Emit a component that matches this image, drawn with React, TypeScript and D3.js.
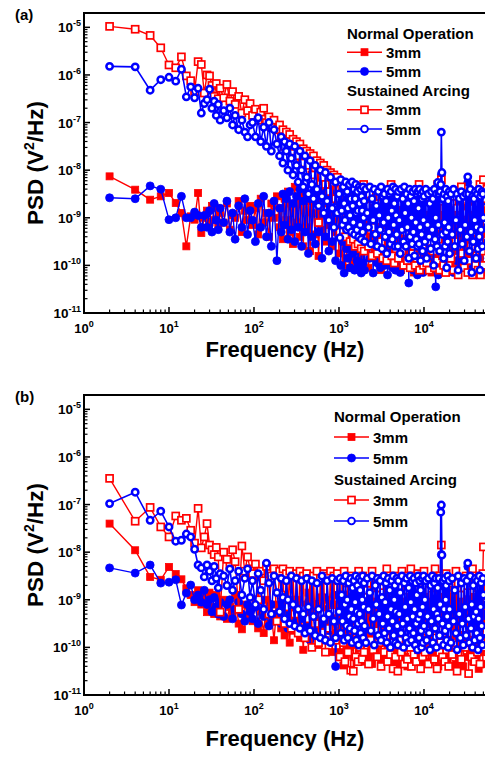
import React from "react";
import * as d3 from "d3";

// frequency bins (Hz) shared by every trace
const freqs = [
  // 2 - 186 Hz
  2, 4, 6, 8, 10, 12, 14, 16, 18, 20,
  22, 24, 26, 28, 30, 32, 34, 36, 38, 40,
  44, 48, 52, 56, 60, 66, 72, 78, 84, 90,
  96, 104, 112, 120, 130, 140, 150, 160, 172, 186,
  // 200 - 955 Hz
  200, 209, 219, 229, 240, 251, 263, 275, 288, 302,
  316, 331, 347, 363, 380, 398, 417, 437, 457, 479,
  501, 525, 550, 575, 603, 631, 661, 692, 724, 759,
  794, 832, 871, 912, 955,
  // 1 - 2 kHz
  1000, 1025, 1050, 1075, 1100, 1125, 1150, 1175, 1200, 1225,
  1250, 1275, 1300, 1325, 1350, 1375, 1400, 1425, 1450, 1475,
  1500, 1525, 1550, 1575, 1600, 1625, 1650, 1675, 1700, 1725,
  1750, 1775, 1800, 1825, 1850, 1875, 1900, 1925, 1950, 1975,
  // 2 - 5 kHz
  2000, 2075, 2150, 2225, 2300, 2375, 2450, 2525, 2600, 2675,
  2750, 2825, 2900, 2975, 3050, 3125, 3200, 3275, 3350, 3425,
  3500, 3575, 3650, 3725, 3800, 3875, 3950, 4025, 4100, 4175,
  4250, 4325, 4400, 4475, 4550, 4625, 4700, 4775, 4850, 4925,
  // 5 - 10 kHz
  5000, 5125, 5250, 5375, 5500, 5625, 5750, 5875, 6000, 6125,
  6250, 6375, 6500, 6625, 6750, 6875, 7000, 7125, 7250, 7375,
  7500, 7625, 7750, 7875, 8000, 8125, 8250, 8375, 8500, 8625,
  8750, 8875, 9000, 9125, 9250, 9375, 9500, 9625, 9750, 9875,
  // 10 - 20 kHz
  10000, 10250, 10500, 10750, 11000, 11250, 11500, 11750, 12000, 12250,
  12500, 12750, 13000, 13250, 13500, 13750, 14000, 14250, 14500, 14750,
  15000, 15250, 15500, 15750, 16000, 16250, 16500, 16750, 17000, 17250,
  17500, 17750, 18000, 18250, 18500, 18750, 19000, 19250, 19500, 19750,
  // 20 - 50 kHz
  20000, 20750, 21500, 22250, 23000, 23750, 24500, 25250, 26000, 26750,
  27500, 28250, 29000, 29750, 30500, 31250, 32000, 32750, 33500, 34250,
  35000, 35750, 36500, 37250, 38000, 38750, 39500, 40250, 41000, 41750,
  42500, 43250, 44000, 44750, 45500, 46250, 47000, 47750, 48500, 49250,
  50000,
];

// values below are log10 of PSD (V^2/Hz)

// (a) normal operation, 3mm
const aNormal3 = [
  -8.13, -8.41, -8.62, -8.55, -8.48, -8.69, -8.9, -9.6, -8.97, -9.04,
  -8.48, -9.32, -9.0, -8.85, -9.1, -8.75, -9.05, -8.8, -9.2, -8.9,
  -9.1, -8.7, -9.25, -8.95, -9.0, -8.65, -9.3, -8.85, -9.05, -8.75,
  -9.15, -8.8, -9.35, -8.6, -9.1, -8.9, -9.4, -8.7, -9.0, -8.55,
  -9.2, -8.8, -9.45, -8.6, -9.05, -8.45, -9.3, -8.7, -9.55, -8.35,
  -9.1, -8.6, -9.4, -8.5, -9.6, -8.4, -9.2, -8.65, -9.7, -8.5,
  -8.9, -9.35, -8.55, -9.8, -8.6, -9.25, -8.45, -9.5, -8.7, -9.15,
  -8.4, -9.6, -8.55, -9.3, -8.65,
  -9.75, -8.6, -9.3, -8.9, -10.0, -8.55, -9.5, -9.1, -8.7, -9.85,
  -8.65, -9.4, -9.0, -10.05, -8.75, -9.6, -8.55, -9.2, -9.9, -8.8,
  -9.45, -8.6, -10.0, -9.15, -8.7, -9.7, -8.95, -8.55, -9.55, -10.1,
  -8.75, -9.3, -8.6, -9.8, -9.05, -8.65, -9.95, -8.85, -9.4, -8.55,
  -9.65, -9.0, -8.7, -10.05, -8.6, -9.35, -9.8, -8.8, -9.15, -8.55,
  -9.9, -8.65, -9.5, -9.05, -8.75, -10.1, -8.6, -9.25, -9.7, -8.85,
  -8.55, -9.6, -9.1, -8.7, -9.95, -8.6, -9.4, -8.9, -10.0, -8.65,
  -9.3, -8.8, -9.75, -8.55, -9.2, -10.05, -8.7, -9.5, -8.6, -9.85,
  -8.9, -9.45, -8.6, -10.1, -8.75, -9.3, -9.7, -8.55, -9.05, -9.9,
  -8.65, -9.55, -8.8, -9.2, -10.0, -8.6, -9.4, -8.7, -9.8, -9.0,
  -8.55, -10.15, -8.7, -9.35, -9.05, -8.6, -9.9, -8.8, -9.5, -8.65,
  -9.75, -8.9, -8.55, -9.6, -10.1, -8.7, -9.25, -8.6, -9.95, -8.8,
  -9.4, -8.65, -10.0, -8.75, -9.15, -9.7, -8.55, -9.5, -8.85, -10.15,
  -8.6, -9.3, -9.85, -8.7, -9.05, -8.55, -9.65, -10.05, -8.8, -9.4,
  -8.6, -9.9, -8.7, -9.2, -8.25, -8.65, -9.55, -10.1, -8.75, -9.0,
  -8.55, -9.75, -9.3, -8.65, -10.0, -8.8, -9.45, -8.6, -9.85, -9.1,
  -8.7, -10.1, -8.6, -9.35, -9.7, -8.55, -9.0, -9.95, -8.75, -9.5,
  -8.6, -9.8, -9.15, -8.7, -10.05, -8.55, -9.4, -8.8, -9.65, -8.6,
  -10.1, -8.75, -9.25, -8.6, -9.9, -9.05, -8.65, -9.6, -8.55, -10.0,
  -8.8, -9.45, -8.6, -9.75, -9.1, -8.7, -10.15, -8.55, -9.35, -8.65,
  -8.26,
];

// (a) normal operation, 5mm
const aNormal5 = [
  -8.58, -8.6, -8.33, -8.4, -9.04, -9.0, -8.55, -9.0, -9.0, -8.88,
  -8.95, -9.2, -8.95, -9.2, -8.85, -9.3, -8.7, -9.05, -9.25, -8.8,
  -9.1, -8.65, -9.3, -8.9, -9.45, -8.75, -9.2, -8.6, -9.35, -8.85,
  -9.05, -9.5, -8.7, -9.2, -8.55, -9.4, -8.9, -9.6, -8.65, -9.9,
  -8.8, -9.3, -8.5, -9.15, -8.6, -9.45, -8.45, -9.25, -8.7, -9.5,
  -8.55, -9.2, -8.4, -9.6, -8.65, -9.3, -8.5, -9.75, -8.6, -9.4,
  -8.45, -9.55, -8.7, -9.3, -8.5, -9.85, -8.6, -9.4, -8.45, -9.7,
  -8.6, -9.5, -8.5, -9.9, -8.65,
  -9.35, -8.55, -10.0, -8.8, -9.5, -8.6, -10.16, -9.1, -8.7, -9.65,
  -8.5, -9.85, -9.2, -8.65, -10.05, -8.9, -9.4, -8.55, -9.75, -9.0,
  -8.6, -10.1, -8.75, -9.45, -8.55, -9.9, -9.15, -8.7, -10.0, -8.6,
  -9.55, -8.85, -9.3, -10.16, -8.65, -9.6, -8.5, -9.95, -9.05, -8.7,
  -10.1, -8.6, -9.45, -8.8, -9.85, -8.55, -9.25, -10.16, -8.7, -9.55,
  -8.6, -9.95, -9.1, -8.65, -10.05, -8.75, -9.6, -8.55, -9.35, -10.0,
  -8.8, -9.5, -8.6, -10.2, -9.0, -8.7, -9.8, -8.55, -9.4, -8.9,
  -10.05, -8.65, -9.65, -8.6, -9.2, -10.1, -8.75, -9.5, -8.55, -9.9,
  -8.7, -9.3, -10.15, -8.6, -9.6, -8.8, -10.0, -8.55, -9.45, -8.65,
  -9.9, -9.05, -8.6, -10.37, -8.75, -9.5, -8.55, -9.8, -9.15, -8.7,
  -10.1, -8.6, -9.4, -8.85, -9.95, -8.55, -9.65, -10.2, -8.7, -9.3,
  -8.6, -9.85, -9.05, -8.65, -10.05, -8.8, -9.55, -8.55, -10.15, -8.75,
  -9.45, -8.6, -10.0, -9.2, -8.7, -9.75, -8.55, -10.1, -8.9, -9.35,
  -8.6, -10.05, -9.6, -8.7, -9.9, -10.45, -8.55, -9.4, -8.8, -10.2,
  -8.65, -9.7, -9.1, -8.6, -8.1, -8.5, -9.8, -8.7, -10.05, -9.3,
  -8.55, -9.6, -10.1, -8.75, -9.45, -8.6, -9.95, -8.85, -9.2, -10.0,
  -8.6, -9.75, -8.7, -10.15, -9.35, -8.55, -9.9, -9.05, -8.65, -10.05,
  -8.8, -9.5, -8.6, -10.0, -9.2, -8.7, -9.85, -8.26, -8.55, -9.6,
  -10.1, -8.65, -9.4, -8.75, -9.95, -8.6, -9.15, -10.05, -8.55, -9.7,
  -8.8, -10.0, -9.3, -8.6, -9.85, -8.7, -9.5, -10.1, -8.65, -9.2,
  -8.9,
];

// (a) sustained arcing, 3mm
const aArc3 = [
  -4.98, -5.04, -5.17, -5.43, -5.79, -5.85, -5.62, -6.02, -6.12, -6.35,
  -5.72, -5.78, -6.38, -6.0, -6.02, -6.22, -6.45, -6.18, -6.5, -6.28,
  -6.48, -6.2, -6.55, -6.35, -6.62, -6.45, -6.8, -6.52, -6.75, -6.6,
  -6.85, -6.72, -6.95, -6.78, -6.7, -7.0, -6.88, -7.1, -6.95, -7.15,
  -7.05, -7.3, -7.15, -7.5, -7.2, -7.4, -7.25, -7.6, -7.35, -7.5,
  -7.4, -7.7, -7.45, -7.85, -7.55, -7.65, -7.6, -7.9, -7.65, -8.1,
  -7.7, -7.95, -7.8, -9.1, -7.85, -8.15, -7.9, -8.3, -8.0, -8.45,
  -8.05, -8.2, -8.1, -8.6, -8.15,
  -8.6, -9.3, -8.25, -8.9, -9.1, -8.45, -8.75, -9.4, -8.5, -9.0,
  -8.35, -9.2, -8.7, -8.5, -9.5, -8.85, -8.4, -9.05, -8.65, -9.45,
  -8.55, -8.95, -9.6, -8.45, -8.8, -9.15, -8.6, -9.55, -8.5, -9.0,
  -9.3, -8.55, -8.85, -9.65, -8.45, -9.1, -8.7, -9.4, -8.3, -9.7,
  -8.6, -9.0, -8.75, -9.6, -8.5, -9.25, -9.8, -8.65, -9.2, -8.9,
  -8.45, -9.75, -8.7, -9.05, -8.55, -9.5, -8.8, -9.85, -8.6, -9.3,
  -9.35, -8.65, -9.9, -8.5, -8.95, -9.55, -8.7, -9.1, -8.3, -9.8,
  -8.75, -9.4, -8.55, -9.95, -8.8, -9.05, -9.65, -8.6, -9.2, -8.5,
  -9.85, -8.7, -9.0, -8.55, -9.7, -8.85, -10.0, -8.6, -9.3, -8.45,
  -8.9, -9.9, -8.6, -9.45, -8.5, -10.05, -8.75, -9.1, -8.65, -9.75,
  -8.55, -9.6, -8.8, -10.0, -8.6, -9.15, -9.85, -8.5, -9.4, -8.7,
  -8.3, -10.1, -8.65, -9.2, -8.85, -9.9, -8.55, -9.6, -8.75, -10.0,
  -8.6, -9.3, -8.5, -9.95, -8.8, -9.05, -10.1, -8.65, -9.5, -8.45,
  -8.7, -9.7, -8.55, -10.05, -8.9, -9.2, -8.6, -9.9, -8.3, -9.45,
  -8.65, -10.1, -8.5, -9.6, -8.2, -8.7, -9.8, -8.55, -10.0, -8.8,
  -9.3, -8.6, -10.15, -8.75, -9.7, -8.5, -9.1, -8.85, -10.0, -8.6,
  -8.45, -9.85, -8.7, -10.1, -8.55, -9.5, -8.8, -10.2, -8.6, -9.0,
  -8.35, -9.75, -8.65, -10.05, -8.9, -9.4, -8.55, -10.15, -8.75, -9.9,
  -8.6, -9.6, -8.5, -10.2, -8.8, -9.3, -8.65, -10.0, -8.45, -9.8,
  -8.7, -10.1, -8.55, -9.5, -8.3, -10.2, -8.85, -9.7, -8.6, -10.0,
  -8.2,
];

// (a) sustained arcing, 5mm
const aArc5 = [
  -5.82, -5.83, -6.32, -6.1, -6.05, -6.13, -5.88, -6.46, -6.25, -6.48,
  -6.28, -6.8, -6.6, -6.52, -6.3, -6.7, -6.55, -6.85, -6.62, -6.95,
  -6.75, -6.9, -6.7, -7.05, -6.85, -7.15, -6.95, -7.2, -7.3, -7.05,
  -7.0, -7.3, -6.9, -7.4, -7.1, -7.5, -7.0, -7.6, -7.15, -7.45,
  -7.7, -7.3, -7.85, -7.4, -7.6, -8.0, -7.45, -7.75, -8.1, -7.5,
  -7.9, -8.25, -7.6, -8.0, -8.35, -7.7, -8.15, -8.5, -7.8, -8.3,
  -8.6, -7.9, -8.4, -8.75, -8.0, -8.55, -8.9, -8.05, -8.65, -9.05,
  -8.15, -8.8, -9.2, -8.25, -8.9,
  -8.5, -9.42, -8.2, -8.85, -9.15, -8.35, -8.7, -9.05, -8.25, -9.25,
  -8.45, -8.8, -9.2, -8.3, -8.95, -8.6, -9.3, -8.25, -8.75, -9.1,
  -8.4, -9.35, -8.6, -8.3, -8.9, -9.25, -8.45, -8.85, -9.4, -8.35,
  -8.7, -9.15, -8.4, -9.45, -8.55, -8.85, -9.3, -8.35, -9.0, -8.65,
  -9.5, -8.4, -8.9, -9.2, -8.35, -9.55, -8.6, -9.05, -8.4, -9.35,
  -8.75, -9.6, -8.45, -8.95, -9.25, -8.35, -9.65, -8.55, -9.1, -8.5,
  -9.4, -8.65, -9.75, -8.4, -9.0, -9.3, -8.5, -9.55, -8.45, -8.85,
  -9.45, -8.35, -9.15, -8.7, -9.6, -8.4, -8.95, -9.35, -8.55, -9.6,
  -8.45, -9.05, -9.75, -8.4, -9.25, -8.6, -9.5, -8.35, -8.9, -9.6,
  -8.5, -9.2, -8.7, -9.85, -8.4, -9.4, -8.55, -9.0, -9.55, -8.45,
  -9.3, -8.65, -9.8, -8.4, -9.1, -9.45, -8.5, -9.6, -8.45, -8.8,
  -9.55, -8.4, -9.2, -9.9, -8.5, -9.35, -8.6, -9.7, -8.45, -9.05,
  -8.55, -9.5, -8.4, -9.85, -9.15, -8.5, -9.4, -8.7, -9.65, -8.45,
  -9.25, -8.6, -10.0, -8.4, -9.45, -9.0, -8.5, -9.6, -8.26, -9.15,
  -8.5, -9.7, -8.45, -8.3, -7.2, -8.05, -9.35, -8.6, -9.85, -8.5,
  -9.1, -9.6, -8.4, -9.3, -10.05, -8.55, -9.5, -8.65, -9.2, -8.45,
  -9.75, -8.5, -9.35, -8.4, -9.6, -9.05, -8.5, -10.1, -8.6, -9.25,
  -8.45, -9.55, -8.55, -9.9, -9.15, -8.5, -9.4, -8.14, -8.5, -9.7,
  -8.4, -9.3, -10.15, -8.55, -9.5, -8.6, -9.05, -8.45, -9.85, -9.2,
  -8.5, -9.65, -8.4, -9.4, -10.1, -8.55, -9.25, -8.45, -9.6, -8.5,
  -9.0,
];

// (b) normal operation, 3mm
const bNormal3 = [
  -7.4, -7.96, -8.52, -8.58, -8.31, -8.46, -8.57, -8.76, -8.9, -9.05,
  -8.8, -9.1, -8.95, -9.26, -8.85, -9.15, -9.3, -8.9, -9.2, -9.35,
  -9.0, -9.4, -9.15, -9.3, -8.9, -9.5, -9.62, -9.1, -9.35, -9.2,
  -9.45, -9.05, -9.6, -9.25, -9.7, -9.0, -9.5, -9.3, -9.85, -9.1,
  -9.4, -9.6, -8.9, -9.75, -9.2, -9.5, -9.9, -9.05, -9.65, -9.3,
  -9.55, -9.0, -9.8, -9.35, -10.05, -9.2, -9.6, -8.85, -9.75, -9.45,
  -9.1, -9.7, -9.3, -9.95, -8.95, -9.55, -9.25, -9.85, -9.0, -9.6,
  -9.4, -10.1, -9.15, -9.7, -9.35,
  -9.1, -10.1, -9.3, -9.65, -8.9, -10.38, -9.4, -9.15, -10.15, -9.5,
  -8.95, -9.7, -9.35, -10.0, -9.2, -9.55, -8.8, -9.9, -9.4, -10.2,
  -9.15, -9.65, -8.85, -9.95, -9.45, -10.25, -9.1, -9.6, -8.9, -10.0,
  -9.35, -9.7, -9.05, -10.3, -9.5, -8.85, -9.8, -9.25, -10.1, -9.45,
  -9.0, -9.75, -9.3, -10.2, -8.9, -9.55, -10.35, -9.2, -9.7, -9.05,
  -10.05, -9.4, -8.95, -9.8, -9.25, -10.25, -9.5, -9.1, -9.9, -8.85,
  -9.6, -10.15, -9.3, -9.7, -8.95, -10.0, -9.45, -9.2, -9.85, -9.35,
  -10.3, -9.0, -9.55, -9.9, -9.15, -10.1, -8.85, -9.65, -9.4, -10.35,
  -9.2, -9.75, -9.0, -10.05, -9.5, -8.9, -9.85, -9.3, -10.2, -9.6,
  -9.05, -10.4, -9.35, -9.7, -8.95, -10.0, -9.45, -9.15, -9.9, -10.3,
  -9.25, -9.6, -8.9, -10.1, -9.4, -9.8, -9.05, -10.25, -9.55, -9.2,
  -10.0, -8.95, -9.7, -9.35, -10.35, -9.1, -9.6, -9.9, -9.0, -10.15,
  -9.45, -9.2, -9.85, -8.9, -10.05, -9.55, -9.3, -10.3, -9.05, -9.7,
  -9.4, -10.1, -8.95, -9.65, -9.25, -10.2, -9.5, -9.0, -9.9, -10.4,
  -9.15, -9.75, -9.3, -10.05, -8.6, -9.3, -9.6, -10.25, -9.0, -9.85,
  -9.45, -8.9, -10.15, -9.35, -9.7, -9.05, -10.3, -9.55, -9.2, -9.95,
  -8.95, -10.1, -9.4, -9.65, -9.1, -10.35, -9.5, -8.9, -9.8, -10.0,
  -9.3, -9.6, -10.4, -9.15, -9.85, -9.0, -10.2, -8.5, -9.45, -9.7,
  -10.05, -9.25, -9.55, -8.95, -10.3, -9.4, -9.75, -9.1, -10.15, -9.5,
  -9.0, -9.9, -10.45, -9.35, -9.6, -8.9, -10.1, -9.45, -9.2, -10.35,
  -8.75,
];

// (b) normal operation, 5mm
const bNormal5 = [
  -8.33, -8.44, -8.27, -8.65, -8.63, -8.58, -9.11, -8.86, -8.69, -9.0,
  -8.9, -9.05, -8.8, -9.1, -9.0, -9.25, -8.95, -9.15, -9.3, -9.05,
  -9.35, -9.1, -9.0, -9.4, -9.2, -9.05, -9.3, -9.45, -9.1, -9.25,
  -9.4, -9.15, -9.5, -9.0, -9.35, -9.25, -9.55, -9.1, -9.45, -9.3,
  -9.2, -9.5, -9.05, -9.4, -9.3, -9.6, -9.15, -9.45, -9.0, -9.35,
  -9.5, -9.2, -9.65, -9.1, -9.4, -9.3, -9.55, -9.05, -9.85, -9.25,
  -9.4, -9.1, -9.6, -9.3, -9.15, -9.5, -8.95, -9.45, -9.2, -9.65,
  -9.1, -9.4, -8.9, -10.4, -9.25,
  -9.7, -9.0, -9.35, -9.6, -8.95, -9.45, -9.2, -9.75, -9.05, -9.5,
  -9.3, -8.9, -9.65, -9.15, -9.8, -9.0, -9.4, -9.7, -9.1, -9.55,
  -8.95, -9.3, -9.85, -9.2, -9.5, -9.0, -9.7, -9.35, -8.9, -9.6,
  -9.25, -9.8, -9.05, -9.45, -9.15, -9.75, -8.95, -9.4, -9.6, -9.1,
  -9.5, -9.9, -9.0, -9.35, -9.65, -9.2, -9.45, -8.9, -9.8, -9.3,
  -9.05, -9.55, -9.75, -9.15, -9.4, -8.95, -9.6, -9.85, -9.25, -9.5,
  -9.0, -9.7, -9.35, -9.1, -9.9, -9.45, -9.2, -8.9, -9.6, -9.3,
  -9.75, -9.05, -9.5, -9.2, -9.85, -9.0, -9.4, -9.65, -9.1, -9.55,
  -8.95, -9.8, -9.3, -9.5, -9.05, -9.7, -9.25, -8.9, -9.6, -9.4,
  -9.9, -9.15, -9.45, -9.0, -9.75, -9.35, -9.55, -9.1, -9.85, -9.2,
  -9.5, -8.95, -9.65, -9.3, -9.8, -9.05, -9.4, -9.7, -9.0, -9.55,
  -9.25, -9.9, -9.1, -9.45, -8.95, -9.75, -9.35, -9.6, -9.15, -9.85,
  -9.0, -9.5, -9.7, -9.2, -9.4, -8.9, -9.8, -9.3, -9.55, -9.05,
  -9.65, -9.25, -9.9, -9.1, -9.45, -9.0, -9.7, -9.35, -9.6, -9.15,
  -9.5, -9.0, -9.8, -9.3, -8.05, -9.3, -9.6, -8.95, -9.45, -9.75,
  -9.05, -8.6, -9.5, -9.2, -9.65, -9.0, -9.85, -9.35, -9.1, -9.55,
  -9.4, -9.75, -9.0, -9.6, -9.25, -9.9, -9.1, -9.45, -8.95, -9.7,
  -9.3, -9.55, -9.05, -9.8, -9.2, -9.4, -9.65, -8.3, -9.0, -9.5,
  -9.75, -9.15, -9.45, -8.95, -9.85, -9.3, -9.6, -9.0, -9.5, -9.2,
  -9.7, -9.05, -9.4, -9.9, -9.15, -9.55, -8.95, -9.35, -9.8, -9.1,
  -9.3,
];

// (b) sustained arcing, 3mm
const bArc3 = [
  -6.45, -7.35, -7.06, -7.47, -7.68, -7.24, -7.33, -7.29, -7.54, -7.81,
  -7.08, -7.91, -7.68, -7.4, -7.85, -7.95, -8.05, -7.9, -8.1, -9.26,
  -8.0, -8.15, -8.3, -7.95, -8.2, -9.2, -7.87, -8.4, -8.1, -8.35,
  -8.45, -8.25, -9.0, -8.4, -8.6, -8.3, -9.3, -8.5, -8.35, -9.45,
  -8.4, -8.9, -8.35, -9.5, -8.45, -9.15, -8.4, -9.6, -8.5, -9.3,
  -8.45, -9.7, -8.4, -9.2, -8.5, -9.8, -8.45, -9.4, -8.55, -10.0,
  -8.5, -9.5, -8.4, -9.9, -8.55, -9.3, -8.45, -10.1, -8.5, -9.6,
  -8.4, -9.25, -8.5, -9.85, -8.45,
  -8.6, -10.2, -8.9, -9.7, -8.55, -9.9, -8.4, -10.3, -8.75, -9.5,
  -8.65, -10.1, -9.0, -9.8, -8.5, -10.48, -8.8, -9.6, -8.6, -10.5,
  -8.7, -9.9, -8.55, -10.2, -8.95, -9.7, -8.6, -10.3, -8.4, -9.8,
  -8.85, -10.0, -8.6, -9.55, -8.75, -10.25, -8.5, -9.75, -8.9, -10.1,
  -8.55, -9.6, -8.8, -10.35, -8.65, -9.85, -8.4, -10.05, -8.7, -9.65,
  -8.9, -10.2, -8.55, -9.9, -8.75, -10.4, -8.6, -9.7, -8.85, -10.1,
  -8.6, -9.8, -8.35, -10.3, -8.8, -9.6, -8.55, -10.15, -8.7, -9.9,
  -8.95, -10.45, -8.6, -9.75, -8.5, -10.2, -8.8, -9.55, -8.65, -10.5,
  -8.55, -9.85, -8.75, -10.1, -8.4, -9.65, -8.9, -10.35, -8.6, -9.95,
  -8.8, -10.25, -8.5, -9.7, -8.7, -10.0, -8.35, -10.4, -8.85, -9.6,
  -8.6, -10.15, -8.9, -9.8, -8.55, -10.3, -8.7, -9.9, -8.45, -10.05,
  -8.75, -9.55, -8.6, -10.45, -8.85, -9.75, -8.5, -10.2, -8.65, -9.85,
  -8.4, -10.1, -8.7, -9.65, -8.55, -10.35, -8.8, -9.9, -8.6, -10.0,
  -8.9, -9.7, -8.55, -10.25, -8.35, -9.8, -8.75, -10.45, -8.6, -9.6,
  -8.7, -10.1, -8.5, -9.9, -7.85, -8.6, -10.2, -8.8, -9.75, -8.55,
  -10.3, -8.7, -9.65, -8.45, -10.05, -8.85, -9.85, -8.6, -10.4, -8.75,
  -9.7, -8.55, -10.15, -8.8, -9.9, -8.4, -10.5, -8.65, -9.8, -8.9,
  -10.25, -8.6, -9.6, -8.75, -10.0, -8.5, -9.75, -8.85, -10.55, -8.6,
  -9.9, -8.7, -10.2, -8.35, -9.7, -8.8, -10.3, -8.55, -9.85, -8.65,
  -10.1, -8.75, -9.65, -8.5, -10.35, -8.9, -9.9, -8.6, -10.0, -8.45,
  -7.89,
];

// (b) sustained arcing, 5mm
const bArc5 = [
  -6.98, -6.74, -7.33, -7.14, -7.47, -7.77, -7.75, -7.62, -7.68, -7.94,
  -8.27, -8.33, -8.52, -8.27, -8.4, -8.6, -8.3, -8.55, -8.75, -8.45,
  -8.5, -8.7, -8.35, -8.8, -8.6, -8.4, -8.9, -8.55, -8.35, -8.95,
  -8.6, -9.1, -8.45, -8.8, -9.2, -8.23, -8.65, -9.3, -8.5, -8.85,
  -9.25, -8.55, -8.95, -9.4, -8.6, -9.0, -9.5, -8.5, -9.1, -9.55,
  -8.55, -9.2, -9.6, -8.6, -9.3, -9.7, -8.55, -9.15, -9.65, -8.6,
  -9.35, -9.75, -8.65, -9.2, -9.8, -8.5, -9.4, -9.85, -8.6, -9.3,
  -9.9, -8.55, -9.45, -9.8, -8.6,
  -9.25, -8.55, -9.7, -8.9, -9.45, -8.6, -9.85, -9.1, -8.5, -9.55,
  -9.0, -9.8, -8.65, -9.35, -9.6, -8.55, -9.2, -9.9, -8.75, -9.4,
  -8.6, -9.65, -9.05, -8.5, -9.85, -9.25, -8.7, -9.5, -9.95, -8.55,
  -9.3, -8.8, -9.7, -8.6, -9.45, -9.0, -8.5, -9.8, -9.15, -8.65,
  -9.55, -9.9, -8.55, -9.2, -8.85, -9.65, -8.5, -9.4, -9.95, -8.7,
  -9.1, -8.55, -9.75, -9.3, -8.6, -9.85, -8.95, -9.5, -8.5, -9.7,
  -9.05, -8.65, -9.9, -9.35, -8.55, -9.6, -8.8, -10.0, -9.2, -8.6,
  -9.45, -8.5, -9.75, -9.0, -8.7, -9.9, -9.25, -8.55, -9.55, -9.95,
  -8.6, -9.3, -8.85, -9.7, -8.5, -9.5, -10.0, -8.65, -9.15, -9.8,
  -8.55, -9.4, -9.9, -8.75, -9.6, -8.5, -9.05, -9.85, -8.6, -9.35,
  -9.7, -8.55, -9.2, -9.95, -8.65, -9.5, -8.9, -10.05, -8.5, -9.4,
  -9.8, -8.6, -9.3, -8.8, -9.65, -10.0, -8.55, -9.15, -9.9, -8.5,
  -9.55, -9.0, -8.6, -9.85, -9.35, -8.55, -9.7, -10.05, -8.7, -9.45,
  -8.5, -9.9, -9.2, -8.65, -9.6, -8.55, -10.0, -9.3, -8.75, -9.4,
  -8.55, -9.75, -9.1, -7.16, -7.01, -8.06, -9.5, -8.6, -9.95, -9.2,
  -8.55, -9.65, -9.0, -8.7, -9.85, -9.35, -8.5, -10.0, -9.55, -8.6,
  -9.2, -9.9, -8.55, -9.45, -8.8, -9.7, -10.05, -8.5, -9.3, -9.8,
  -8.65, -9.5, -9.95, -8.55, -9.15, -9.75, -8.6, -8.23, -9.4, -9.9,
  -8.5, -9.6, -9.1, -10.0, -8.7, -9.35, -9.85, -8.55, -9.25, -9.7,
  -8.6, -10.05, -9.4, -8.5, -9.8, -9.15, -8.65, -9.55, -9.95, -8.55,
  -8.9,
];

const RED = "#ff0000";
const BLUE = "#0000ff";
const FONT = "Arial, 'Liberation Sans', Helvetica, sans-serif";

const yMajor = [-11, -10, -9, -8, -7, -6, -5];
const xMajor = [0, 1, 2, 3, 4];

const legendRows = [
  { kind: "head", text: "Normal Operation" },
  { kind: "item", text: "3mm", color: RED, shape: "square", open: false },
  { kind: "item", text: "5mm", color: BLUE, shape: "circle", open: false },
  { kind: "head", text: "Sustained Arcing" },
  { kind: "item", text: "3mm", color: RED, shape: "square", open: true },
  { kind: "item", text: "5mm", color: BLUE, shape: "circle", open: true },
];

const X_LEFT = 84;
const X_RIGHT = 485;

function Marker({ x, y, shape, color, open, key2 = false }) {
  const fill = open ? "#ffffff" : color;
  if (shape === "square") {
    return (
      <rect
        x={x - 3.5}
        y={y - 3.5}
        width={7}
        height={7}
        fill={fill}
        stroke={color}
        strokeWidth={open ? 1.7 : 0.8}
      />
    );
  }
  // key2: legend sample, drawn with a wider white centre
  const r = open ? (key2 ? 3.4 : 3.2) : 4;
  const sw = open ? (key2 ? 1.9 : 2.5) : 0.8;
  return <circle cx={x} cy={y} r={r} fill={fill} stroke={color} strokeWidth={sw} />;
}

function Panel({ top, tag, traces, legend, titleDy }) {
  const bottom = top + 300;
  const x = d3.scaleLog().domain([1, 50000]).range([X_LEFT, 483.4]);
  const y = d3.scaleLog().domain([1e-11, 2e-5]).range([bottom, top]);

  const line = d3
    .line<number>()
    .x((_, i) => x(freqs[i]))
    .y((v) => y(Math.pow(10, v)));

  const xMinor: number[] = [];
  for (let e = 0; e <= 4; e++) {
    for (let m = 2; m <= 9; m++) {
      const f = m * Math.pow(10, e);
      if (f <= 50000) xMinor.push(f);
    }
  }
  const yMinor: number[] = [];
  for (let e = -11; e <= -6; e++) {
    for (let m = 2; m <= 9; m++) yMinor.push(m * Math.pow(10, e));
  }

  return (
    <g>
      <text x={15} y={top + 7} fontSize={15} fontWeight="bold" fontFamily={FONT}>
        {tag}
      </text>

      {traces.map((t, k) => {
        const vals = t.values.slice(0, freqs.length);
        return (
          <g key={k}>
            <path
              d={line(vals) || ""}
              fill="none"
              stroke={t.color}
              strokeWidth={t.open && t.shape === "circle" ? 1.6 : 1.4}
            />
            {vals.map((v, i) => (
              <Marker
                key={i}
                x={x(freqs[i])}
                y={y(Math.pow(10, v))}
                shape={t.shape}
                color={t.color}
                open={t.open}
              />
            ))}
          </g>
        );
      })}

      {/* frame: left, bottom, top */}
      <path
        d={`M${X_RIGHT},${top}H${X_LEFT}V${bottom}H${X_RIGHT}`}
        fill="none"
        stroke="#000"
        strokeWidth={2}
      />

      {/* x ticks */}
      {xMajor.map((e) => (
        <g key={"xm" + e}>
          <line x1={x(Math.pow(10, e))} x2={x(Math.pow(10, e))} y1={bottom} y2={bottom - 6} stroke="#000" strokeWidth={1.5} />
          <text
            x={x(Math.pow(10, e))}
            y={bottom + 20}
            textAnchor="middle"
            fontSize={13}
            fontWeight="bold"
            fontFamily={FONT}
          >
            10
            <tspan fontSize={9} dy={-6}>
              {e}
            </tspan>
          </text>
        </g>
      ))}
      {xMinor.map((f) => (
        <line key={"xn" + f} x1={x(f)} x2={x(f)} y1={bottom} y2={bottom - 3.5} stroke="#000" strokeWidth={1.2} />
      ))}

      {/* y ticks */}
      {yMajor.map((e) => (
        <g key={"ym" + e}>
          <line x1={X_LEFT} x2={X_LEFT + 6} y1={y(Math.pow(10, e))} y2={y(Math.pow(10, e))} stroke="#000" strokeWidth={1.5} />
          <text
            x={X_LEFT - 3}
            y={y(Math.pow(10, e)) + 5}
            textAnchor="end"
            fontSize={13.5}
            fontWeight="bold"
            fontFamily={FONT}
          >
            10
            <tspan fontSize={9} dy={-6}>
              {"-" + Math.abs(e)}
            </tspan>
          </text>
        </g>
      ))}
      {yMinor.map((v, i) => (
        <line key={"yn" + i} x1={X_LEFT} x2={X_LEFT + 3.5} y1={y(v)} y2={y(v)} stroke="#000" strokeWidth={1.2} />
      ))}

      {/* axis titles */}
      <text
        x={285}
        y={bottom + titleDy}
        textAnchor="middle"
        fontSize={22}
        fontWeight="bold"
        fontFamily={FONT}
      >
        Frequency (Hz)
      </text>
      <text
        transform={`translate(43,${top + 150}) rotate(-90)`}
        textAnchor="middle"
        fontSize={22.5}
        fontWeight="bold"
        fontFamily={FONT}
      >
        PSD (V
        <tspan fontSize={14} dy={-9}>
          2
        </tspan>
        <tspan dy={9}>/Hz)</tspan>
      </text>

      {/* legend */}
      {legendRows.map((r, i) => {
        const cy = legend.y + i * legend.gap;
        if (r.kind === "head") {
          return (
            <text key={i} x={legend.x} y={cy + 5.5} fontSize={15} fontWeight="bold" fontFamily={FONT}>
              {r.text}
            </text>
          );
        }
        return (
          <g key={i}>
            <line x1={legend.x} x2={legend.x + 35} y1={cy} y2={cy} stroke={r.color} strokeWidth={1.5} />
            <Marker x={legend.x + 17.5} y={cy} shape={r.shape} color={r.color} open={r.open} key2 />
            <text x={legend.x + 39} y={cy + 5.5} fontSize={15} fontWeight="bold" fontFamily={FONT}>
              {r.text}
            </text>
          </g>
        );
      })}
    </g>
  );
}

export default function App() {
  const tracesA = [
    { values: aNormal3, color: RED, shape: "square", open: false },
    { values: aNormal5, color: BLUE, shape: "circle", open: false },
    { values: aArc3, color: RED, shape: "square", open: true },
    { values: aArc5, color: BLUE, shape: "circle", open: true },
  ];
  const tracesB = [
    { values: bNormal3, color: RED, shape: "square", open: false },
    { values: bNormal5, color: BLUE, shape: "circle", open: false },
    { values: bArc3, color: RED, shape: "square", open: true },
    { values: bArc5, color: BLUE, shape: "circle", open: true },
  ];

  return (
    <svg
      width={485}
      height={758}
      style={{ position: "absolute", left: 0, top: 0, background: "#fff" }}
    >
      <Panel top={13} tag="(a)" traces={tracesA} legend={{ x: 347, y: 33, gap: 19.2 }} titleDy={44} />
      <Panel top={395} tag="(b)" traces={tracesB} legend={{ x: 334, y: 416, gap: 21 }} titleDy={51} />
    </svg>
  );
}
